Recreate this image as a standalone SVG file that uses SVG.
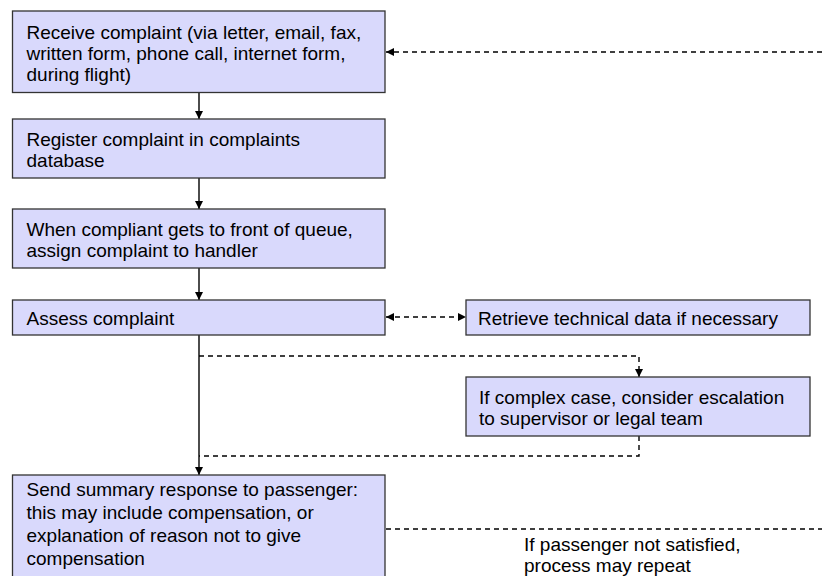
<svg xmlns="http://www.w3.org/2000/svg" width="822" height="576" viewBox="0 0 822 576">
<defs>
<style>
.box{fill:#D9D9FC;stroke:#333333;stroke-width:1.3}
.t{font-family:"Liberation Sans",Arial,sans-serif;font-size:19px;fill:#000}
.solid{stroke:#000;stroke-width:1.4;fill:none}
.dash{stroke:#000;stroke-width:1.4;fill:none;stroke-dasharray:5,4}
</style>
<marker id="ah" viewBox="0 0 10 10" refX="10" refY="5" markerWidth="8" markerHeight="8" markerUnits="userSpaceOnUse" orient="auto-start-reverse">
<path d="M0,0 L10,5 L0,10 Z" fill="#000"/>
</marker>
</defs>
<rect width="822" height="576" fill="#fff"/>
<g id="connectors">
<line class="solid" x1="199" y1="92" x2="199" y2="119" marker-end="url(#ah)"/>
<line class="solid" x1="199" y1="178" x2="199" y2="209" marker-end="url(#ah)"/>
<line class="solid" x1="199" y1="268" x2="199" y2="300" marker-end="url(#ah)"/>
<line class="solid" x1="199" y1="335" x2="199" y2="475" marker-end="url(#ah)"/>
<polyline class="dash" points="199,356 639,356 639,377" marker-end="url(#ah)"/>
<polyline class="dash" points="639,436 639,456 199,456"/>
<line class="dash" x1="386" y1="317" x2="466" y2="317" marker-start="url(#ah)" marker-end="url(#ah)"/>
<line class="dash" x1="822" y1="52" x2="386" y2="52" marker-end="url(#ah)"/>
<line class="dash" x1="386" y1="529" x2="822" y2="529"/>
</g>
<g id="n1">
<rect class="box" x="12.5" y="11" width="372.5" height="81.5"/>
<text class="t" x="26.5" y="38.5">Receive complaint (via letter, email, fax,</text>
<text class="t" x="26.5" y="59.5">written form, phone call, internet form,</text>
<text class="t" x="26.5" y="80.5">during flight)</text>
</g>
<g id="n2">
<rect class="box" x="12.5" y="119" width="372.5" height="59"/>
<text class="t" x="26.5" y="146">Register complaint in complaints</text>
<text class="t" x="26.5" y="167">database</text>
</g>
<g id="n3">
<rect class="box" x="12.5" y="209" width="372.5" height="59"/>
<text class="t" x="26.5" y="236">When compliant gets to front of queue,</text>
<text class="t" x="26.5" y="257">assign complaint to handler</text>
</g>
<g id="n4">
<rect class="box" x="12.5" y="300" width="372.5" height="35"/>
<text class="t" x="26.5" y="325">Assess complaint</text>
</g>
<g id="n5">
<rect class="box" x="466" y="300" width="344" height="35"/>
<text class="t" x="478" y="325">Retrieve technical data if necessary</text>
</g>
<g id="n6">
<rect class="box" x="466" y="377" width="344" height="59"/>
<text class="t" x="479" y="404">If complex case, consider escalation</text>
<text class="t" x="479" y="425">to supervisor or legal team</text>
</g>
<g id="n7">
<rect class="box" x="12.5" y="475" width="372.5" height="120"/>
<text class="t" x="26.5" y="496">Send summary response to passenger:</text>
<text class="t" x="26.5" y="519">this may include compensation, or</text>
<text class="t" x="26.5" y="542">explanation of reason not to give</text>
<text class="t" x="26.5" y="565">compensation</text>
</g>
<g id="label">
<text class="t" x="524" y="551">If passenger not satisfied,</text>
<text class="t" x="524" y="572">process may repeat</text>
</g>
</svg>
